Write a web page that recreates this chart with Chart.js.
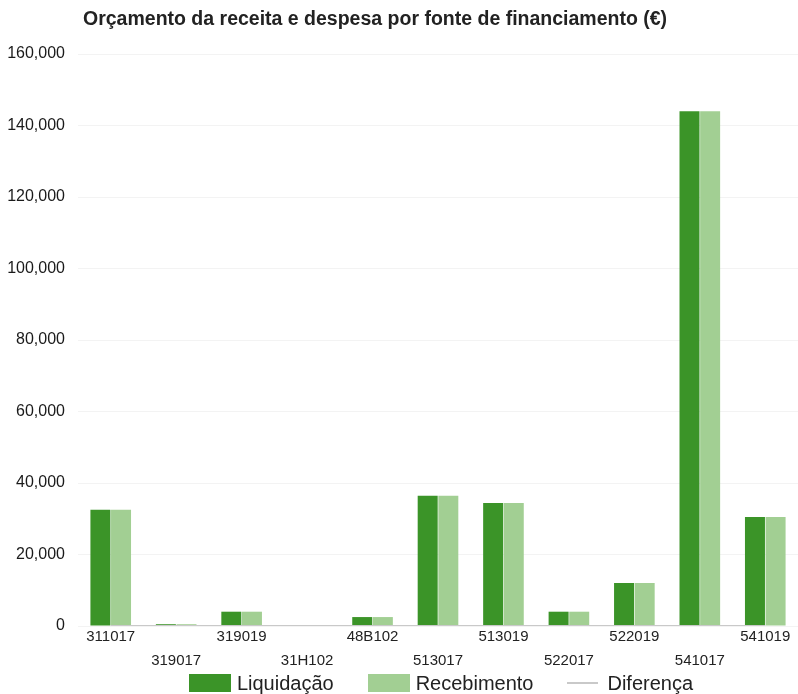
<!DOCTYPE html>
<html>
<head>
<meta charset="utf-8">
<script src="https://cdn.jsdelivr.net/npm/chart.js@4/dist/chart.umd.min.js"></script>
<style>
  html, body { margin: 0; padding: 0; background: #fff; }
  #wrap { position: relative; width: 798px; height: 694px; overflow: hidden; }
  #title {
    position: absolute; left: 83px; top: 7px;
    font: bold 19.5px "Liberation Sans", Arial, sans-serif; color: #222;
  }
  canvas { position: absolute; left: 0; top: 0; }
  #legend {
    position: absolute; left: 81px; width: 720px; top: 672px; height: 22px;
    display: flex; justify-content: center; align-items: center;
    font: 20px "Liberation Sans", Arial, sans-serif; color: #222;
  }
  .legend-item { display: flex; align-items: center; margin: 0 17px; }
  .legend-box  { width: 42px; height: 18px; margin-right: 6px; }
  .legend-line { width: 31px; height: 2px; margin-right: 9px; }
</style>
</head>
<body>
<div id="wrap">
  <canvas id="chart" width="798" height="694"></canvas>
  <div id="title">Orçamento da receita e despesa por fonte de financiamento (€)</div>
  <div id="legend"></div>
</div>
<script>
// ── Data ────────────────────────────────────────────────────────
const CATEGORIES  = ['311017', '319017', '319019', '31H102', '48B102', '513017',
                     '513019', '522017', '522019', '541017', '541019'];
const LIQUIDACAO  = [32500, 500, 4000, 0, 2500, 36400, 34400, 4000, 12000, 144000, 30500];
const RECEBIMENTO = [32500, 500, 4000, 0, 2500, 36400, 34400, 4000, 12000, 144000, 30500];
const DIFERENCA   = [0, 0, 0, 0, 0, 0, 0, 0, 0, 0, 0];
const Y_TICKS     = [0, 20000, 40000, 60000, 80000, 100000, 120000, 140000, 160000];

const DARK  = '#3b9428';
const LIGHT = '#a2cf93';
const GREY  = '#c9c9c9';
const FONT  = '"Liberation Sans", Arial, sans-serif';

const chart = new Chart(document.getElementById('chart'), {
  type: 'bar',
  data: {
    labels: CATEGORIES,
    datasets: [
      { label: 'Liquidação', data: LIQUIDACAO, backgroundColor: DARK,
        barPercentage: 0.97, categoryPercentage: 0.63, order: 2 },
      { label: 'Recebimento', data: RECEBIMENTO, backgroundColor: LIGHT,
        barPercentage: 0.97, categoryPercentage: 0.63, order: 2 },
      { label: 'Diferença', type: 'line', data: DIFERENCA, borderColor: GREY,
        borderWidth: 2, pointRadius: 0, order: 1 },
    ],
  },
  options: {
    responsive: false,
    animation: false,
    layout: { padding: { top: 54, left: 0, right: 0, bottom: 22 } },
    plugins: {
      title: { display: false },
      tooltip: { enabled: false },
      legend: { display: false },
    },
    scales: {
      x: {
        grid: { display: false },
        border: { display: false },
        afterFit: scale => { scale.height = 46; },
        ticks: {
          font: { family: FONT, size: 15, lineHeight: 1.6 },
          color: '#222',
          maxRotation: 0,
          autoSkip: false,
          padding: -9,
          callback: (v, i) => i % 2 === 0 ? CATEGORIES[i] : ['', CATEGORIES[i]],
        },
      },
      y: {
        min: 0,
        max: 160000,
        afterBuildTicks: axis => { axis.ticks = Y_TICKS.map(v => ({ value: v })); },
        afterFit: scale => { scale.width = 78; },
        grid: { color: '#f3f3f3', drawTicks: false },
        border: { display: false },
        ticks: {
          font: { family: FONT, size: 16 },
          color: '#1a1a1a',
          padding: 13,
          callback: v => v.toLocaleString('en-US'),
        },
      },
    },
  },
});

// Legend
const legendEl = document.getElementById('legend');
chart.data.datasets.forEach(ds => {
  const item = document.createElement('div');
  item.className = 'legend-item';
  const isLine = ds.type === 'line';
  item.innerHTML = `
    <span class="${isLine ? 'legend-line' : 'legend-box'}"
          style="background:${isLine ? ds.borderColor : ds.backgroundColor}"></span>
    <span>${ds.label}</span>
  `;
  legendEl.appendChild(item);
});
</script>
</body>
</html>
